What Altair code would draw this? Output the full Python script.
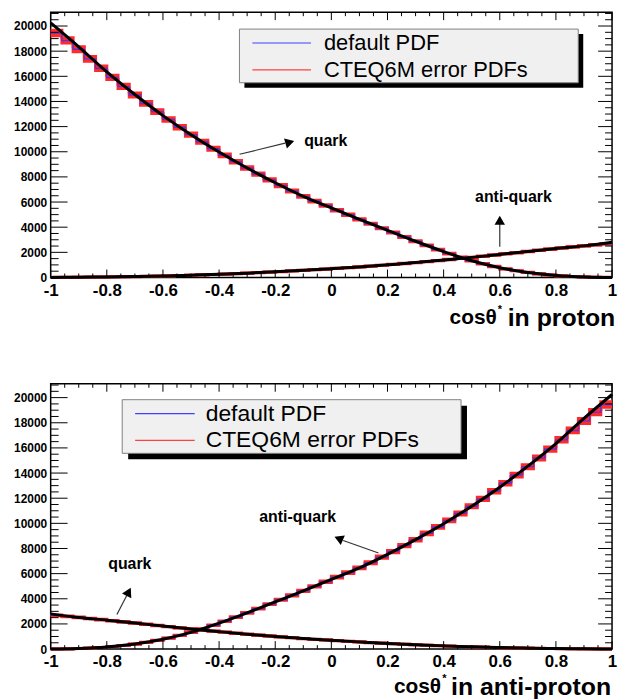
import altair as alt
import pandas as pd

FONT = "Liberation Sans"

# ---------------- data ----------------
bin_edges = [round(-1 + 0.04 * i, 2) for i in range(51)]

# proton panel: quark (default PDF) per bin, anti-quark per bin
quark_proton = [19450, 18850, 18150, 17390, 16640, 15910, 15200, 14510, 13840, 13190,
                12560, 11950, 11360, 10790, 10240, 9710, 9200, 8705, 8225, 7760,
                7310, 6875, 6455, 6080, 5720, 5350, 4985, 4625, 4270, 3920,
                3575, 3220, 2880, 2545, 2215, 1900, 1600, 1330, 1090, 875,
                690, 535, 400, 290, 200, 130, 80, 45, 20, 8]
quark_proton_err = [220, 210, 200, 190, 180, 170, 165, 160, 150, 145,
                    140, 135, 130, 120, 115, 110, 105, 100, 95, 90,
                    85, 80, 75, 70, 65, 60, 55, 50, 45, 45,
                    40, 35, 35, 30, 25, 25, 20, 20, 15, 15,
                    10, 10, 10, 5, 5, 5, 5, 5, 5, 5]
antiquark_proton = [5, 12, 20, 28, 36, 46, 58, 72, 88, 108,
                    130, 155, 180, 208, 238, 270, 305, 345, 385, 428,
                    472, 520, 570, 620, 672, 725, 780, 840, 905, 972,
                    1040, 1110, 1185, 1262, 1345, 1430, 1515, 1600, 1690, 1785,
                    1880, 1975, 2070, 2165, 2255, 2345, 2430, 2515, 2600, 2680]
antiquark_proton_err = [5, 5, 5, 5, 5, 5, 5, 5, 5, 5,
                        5, 5, 5, 5, 5, 5, 5, 5, 5, 5,
                        10, 10, 10, 10, 10, 10, 10, 10, 10, 10,
                        15, 15, 15, 15, 15, 15, 15, 15, 15, 15,
                        20, 20, 20, 25, 25, 25, 25, 30, 30, 30]

# anti-proton panel
quark_antiproton = [2680, 2600, 2515, 2430, 2345, 2255, 2165, 2070, 1975, 1880,
                    1785, 1690, 1600, 1515, 1430, 1345, 1262, 1185, 1110, 1040,
                    972, 905, 840, 780, 725, 672, 620, 570, 520, 472,
                    428, 385, 345, 305, 270, 238, 208, 180, 155, 130,
                    108, 88, 72, 58, 46, 36, 28, 20, 12, 5]
quark_antiproton_err = [30, 30, 30, 25, 25, 25, 25, 20, 20, 20,
                        15, 15, 15, 15, 15, 15, 15, 15, 15, 15,
                        10, 10, 10, 10, 10, 10, 10, 10, 10, 10,
                        5, 5, 5, 5, 5, 5, 5, 5, 5, 5,
                        5, 5, 5, 5, 5, 5, 5, 5, 5, 5]
antiquark_antiproton = [8, 20, 45, 80, 130, 200, 290, 400, 535, 690,
                        875, 1090, 1330, 1600, 1900, 2215, 2545, 2880, 3220, 3575,
                        3920, 4270, 4625, 4985, 5350, 5720, 6080, 6455, 6875, 7310,
                        7760, 8225, 8705, 9200, 9710, 10240, 10790, 11360, 11950, 12560,
                        13190, 13840, 14510, 15200, 15910, 16640, 17390, 18150, 18850, 19450]
antiquark_antiproton_err = [5, 5, 5, 5, 5, 5, 5, 10, 10, 10,
                            15, 15, 20, 20, 25, 25, 30, 35, 35, 40,
                            45, 45, 50, 55, 60, 65, 70, 75, 80, 85,
                            90, 95, 100, 105, 110, 115, 120, 130, 135, 140,
                            145, 150, 160, 165, 170, 180, 190, 200, 210, 220]

# smooth theory curves
curve_x = [-1.0, -0.9, -0.8, -0.7, -0.6, -0.5, -0.4, -0.3, -0.2, -0.1, 0.0,
           0.1, 0.2, 0.3, 0.4, 0.5, 0.6, 0.7, 0.8, 0.9, 1.0]
curve_quark_proton = [20250, 18350, 16350, 14550, 12875, 11360, 9975, 8705, 7535, 6455, 5535,
                      4625, 3750, 2880, 2060, 1330, 780, 400, 165, 45, 0]
curve_antiquark_proton = [0, 20, 41, 72, 119, 180, 254, 345, 450, 570, 698,
                          840, 1006, 1185, 1387, 1600, 1832, 2070, 2300, 2515, 2800]
curve_quark_antiproton = [2800, 2515, 2300, 2070, 1832, 1600, 1387, 1185, 1006, 840, 698,
                          570, 450, 345, 254, 180, 119, 72, 41, 20, 0]
curve_antiquark_antiproton = [0, 45, 165, 400, 780, 1330, 2060, 2880, 3750, 4625, 5535,
                              6455, 7535, 8705, 9975, 11360, 12875, 14550, 16350, 18350, 20250]

# axis ticks / labels
x_major = [-1, -0.8, -0.6, -0.4, -0.2, 0, 0.2, 0.4, 0.6, 0.8, 1]
x_minor = [-0.95, -0.9, -0.85, -0.75, -0.7, -0.65, -0.55, -0.5, -0.45, -0.35, -0.3, -0.25,
           -0.15, -0.1, -0.05, 0.05, 0.1, 0.15, 0.25, 0.3, 0.35, 0.45, 0.5, 0.55,
           0.65, 0.7, 0.75, 0.85, 0.9, 0.95]
y_major = [0, 2000, 4000, 6000, 8000, 10000, 12000, 14000, 16000, 18000, 20000]
y_minor = [500, 1000, 1500, 2500, 3000, 3500, 4500, 5000, 5500, 6500, 7000, 7500,
           8500, 9000, 9500, 10500, 11000, 11500, 12500, 13000, 13500, 14500, 15000, 15500,
           16500, 17000, 17500, 18500, 19000, 19500, 20500, 21000]

legend_labels = ["default PDF", "CTEQ6M error PDFs"]

# annotations (data coordinates)
proton_notes = {
    "text": [("quark", -0.097, 10830), ("anti-quark", 0.512, 6400)],
    "lines": [(-0.327, 9800, -0.165, 10680), (0.6, 2450, 0.6, 4250)],
    "heads": [(-0.148, 10760, 74), (0.6, 4560, 0)],
}
antiproton_notes = {
    "text": [("quark", -0.795, 6750), ("anti-quark", -0.257, 10480)],
    "lines": [(-0.764, 2750, -0.728, 4300), (0.168, 7640, 0.042, 8640)],
    "heads": [(-0.722, 4560, 27), (0.026, 8800, 293)],
}

# ---------------- chart ----------------
W, H = 565, 267
XS = alt.Scale(domain=[-1, 1], nice=False, zero=False)
YS = alt.Scale(domain=[0, 21100], nice=False, zero=False)
ONE = pd.DataFrame({"d": [0]})

axis_x = alt.Axis(values=x_major, labelExpr="'' + datum.value", labelFontSize=17,
                  labelFont=FONT, labelFontWeight="bold", labelColor="black",
                  ticks=False, domain=False, grid=False, title=None, labelFlush=False,
                  labelPadding=5, labelAngle=0, labelOverlap=False)
axis_y = alt.Axis(values=y_major, format="d", labelFontSize=12, labelFont=FONT,
                  labelFontWeight="bold", labelColor="black", ticks=False,
                  domain=False, grid=False, title=None, labelPadding=4,
                  minExtent=45, maxExtent=45, labelOverlap=False)


def X(f):
    return alt.X(f, scale=XS, axis=axis_x)


def Y(f):
    return alt.Y(f, scale=YS, axis=axis_y)


def step_frame(series):
    rows = []
    for name, vals, errs in series:
        for i in range(len(vals)):
            rows.append(dict(s=name, x=bin_edges[i], v=vals[i],
                             lo=vals[i] - errs[i], hi=vals[i] + errs[i]))
        rows.append(dict(s=name, x=bin_edges[-1], v=vals[-1],
                         lo=vals[-1] - errs[-1], hi=vals[-1] + errs[-1]))
    return pd.DataFrame(rows)


def curve_frame(curves):
    rows = []
    for name, vals in curves:
        for xv, yv in zip(curve_x, vals):
            rows.append(dict(s=name, x=xv, v=yv))
    return pd.DataFrame(rows)


def panel(series, curves, notes, legend_box, title_parts):
    sdf = step_frame(series)
    cdf = curve_frame(curves)
    base = alt.Chart(sdf)
    layers = []
    # red error band
    layers.append(base.mark_area(interpolate="step-after", color="#ff2020", opacity=0.9).encode(
        x=X("x:Q"), y=Y("lo:Q"), y2="hi:Q", detail="s:N"))
    for f in ["lo", "hi"]:
        layers.append(base.mark_line(interpolate="step-after", color="#ff2a2a", strokeWidth=3).encode(
            x=X("x:Q"), y=Y(f + ":Q"), detail="s:N"))
    # default PDF
    layers.append(base.mark_line(interpolate="step-after", color="#5a32d2", strokeWidth=1.4).encode(
        x=X("x:Q"), y=Y("v:Q"), detail="s:N"))
    # theory curves
    layers.append(alt.Chart(cdf).mark_line(interpolate="monotone", color="black", strokeWidth=3).encode(
        x=X("x:Q"), y=Y("v:Q"), detail="s:N"))
    # inward ticks
    for vals, ln in [(x_major, 8), (x_minor, 4)]:
        tdf = alt.Chart(pd.DataFrame({"t": vals}))
        layers.append(tdf.mark_rule(color="black", strokeWidth=1).encode(
            x=X("t:Q"), y=alt.value(H), y2=alt.value(H - ln)))
        layers.append(tdf.mark_rule(color="black", strokeWidth=1).encode(
            x=X("t:Q"), y=alt.value(0), y2=alt.value(ln)))
    for vals, lnl, lnr in [(y_major, 17, 14), (y_minor, 8, 7)]:
        tdf = alt.Chart(pd.DataFrame({"t": vals}))
        layers.append(tdf.mark_rule(color="black", strokeWidth=1).encode(
            y=Y("t:Q"), x=alt.value(0), x2=alt.value(lnl)))
        layers.append(tdf.mark_rule(color="black", strokeWidth=1).encode(
            y=Y("t:Q"), x=alt.value(W), x2=alt.value(W - lnr)))
    # annotations
    ldf = pd.DataFrame(notes["lines"], columns=["x", "y", "x2", "y2"])
    layers.append(alt.Chart(ldf).mark_rule(color="#333333", strokeWidth=1.2).encode(
        x=X("x:Q"), y=Y("y:Q"), x2="x2:Q", y2="y2:Q"))
    for hx, hy, ang in notes["heads"]:
        layers.append(alt.Chart(pd.DataFrame({"x": [hx], "y": [hy]})).mark_point(
            shape="triangle-up", filled=True, size=110, color="black", opacity=1, angle=ang).encode(
            x=X("x:Q"), y=Y("y:Q")))
    tdf = pd.DataFrame(notes["text"], columns=["label", "x", "y"])
    layers.append(alt.Chart(tdf).mark_text(align="left", baseline="middle", font=FONT,
                                           fontSize=16, fontWeight="bold", color="black").encode(
        x=X("x:Q"), y=Y("y:Q"), text="label:N"))
    # legend box with shadow
    bx0, bx1, by0, by1, sh, lx0, lx1, ly0, ly1, tx, fs = legend_box
    one = alt.Chart(ONE)
    layers.append(one.mark_rect(color="black").encode(
        x=alt.value(bx0 + sh), x2=alt.value(bx1 + sh), y=alt.value(by0 + sh), y2=alt.value(by1 + sh)))
    layers.append(one.mark_rect(fill="#f0f0f0", stroke="#808080", strokeWidth=1).encode(
        x=alt.value(bx0), x2=alt.value(bx1), y=alt.value(by0), y2=alt.value(by1)))
    layers.append(one.mark_rule(color="#4040ff", strokeWidth=1.2).encode(
        x=alt.value(lx0), x2=alt.value(lx1), y=alt.value(ly0)))
    layers.append(one.mark_rule(color="#ff4040", strokeWidth=1.2).encode(
        x=alt.value(lx0), x2=alt.value(lx1), y=alt.value(ly1)))
    for lab, yy in zip(legend_labels, [ly0, ly1]):
        layers.append(one.mark_text(align="left", baseline="middle", font=FONT, fontSize=fs,
                                    color="black").encode(
            x=alt.value(tx), y=alt.value(yy), text=alt.value(lab)))
    # x title: cos theta^* in ...
    cx, sx, ix, ty, fs1, fs2 = title_parts["pos"]
    layers.append(one.mark_text(align="right", baseline="middle", font=FONT, fontSize=fs1,
                                fontWeight="bold", color="black").encode(
        x=alt.value(cx), y=alt.value(ty), text=alt.value("cosθ")))
    layers.append(one.mark_text(align="left", baseline="middle", font=FONT, fontSize=11,
                                fontWeight="bold", color="black").encode(
        x=alt.value(sx), y=alt.value(ty - 8), text=alt.value("*")))
    layers.append(one.mark_text(align="left", baseline="middle", font=FONT, fontSize=fs2,
                                fontWeight="bold", color="black").encode(
        x=alt.value(ix), y=alt.value(ty), text=alt.value(title_parts["text"])))
    return alt.layer(*layers).properties(width=W, height=H)


top = panel(
    [("quark", quark_proton, quark_proton_err), ("anti-quark", antiquark_proton, antiquark_proton_err)],
    [("quark", curve_quark_proton), ("anti-quark", curve_antiquark_proton)],
    proton_notes,
    (190, 531, 17, 71, 5, 203, 262, 31, 58, 275, 22),
    {"pos": (449, 450, 460, 308, 21, 25), "text": "in proton"},
)
bottom = panel(
    [("quark", quark_antiproton, quark_antiproton_err), ("anti-quark", antiquark_antiproton, antiquark_antiproton_err)],
    [("quark", curve_quark_antiproton), ("anti-quark", curve_antiquark_antiproton)],
    antiproton_notes,
    (72, 413, 16, 70, 6, 85, 145, 30, 57, 156, 23),
    {"pos": (393, 394, 403, 305, 21, 25), "text": "in anti-proton"},
)

chart = alt.vconcat(top, bottom, spacing=50).properties(
    padding={"left": 5, "top": 8, "right": 0, "bottom": 0},
    background="white",
).configure_view(stroke="black", strokeWidth=1.5)

chart.save("out.html", embed_options={"renderer": "svg", "actions": False})
